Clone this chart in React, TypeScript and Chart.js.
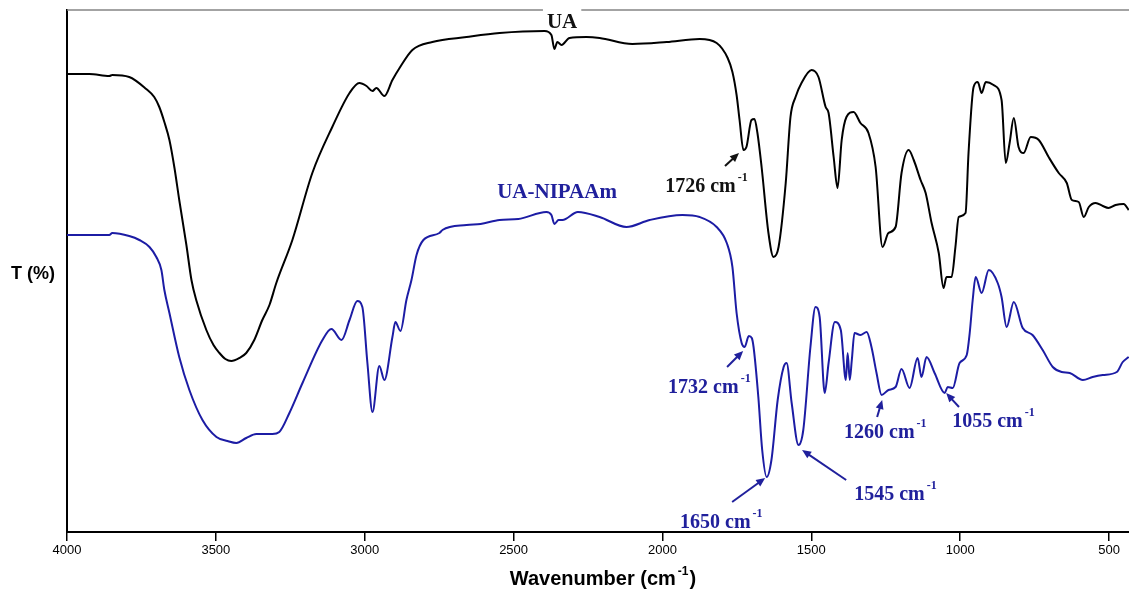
import { useEffect, useRef } from "react";
import { Chart, registerables } from "chart.js";

Chart.register(...registerables);

// FTIR spectra: wavenumber (cm-1) vs transmittance (arbitrary offset, %)
const UA_WAVENUMBER = [
  4000, 3925, 3858, 3848, 3791, 3734, 3707, 3690, 3673, 3656, 3639, 3623, 3599, 3582, 3566, 3532,
  3508, 3488, 3468, 3448, 3421, 3398, 3371, 3344, 3320, 3297, 3243, 3176, 3109, 3051, 3018, 2994,
  2974, 2961, 2934, 2907, 2883, 2840, 2773, 2658, 2547, 2396, 2373, 2363, 2353, 2339, 2312, 2255,
  2211, 2101, 1986, 1875, 1818, 1781, 1765, 1751, 1741, 1728, 1718, 1701, 1691, 1681, 1667, 1644,
  1627, 1610, 1586, 1570, 1553, 1533, 1499, 1476, 1452, 1442, 1425, 1412, 1398, 1382, 1358, 1335,
  1308, 1284, 1261, 1241, 1217, 1197, 1173, 1156, 1133, 1116, 1096, 1072, 1056, 1046, 1029, 1016,
  1005, 982, 972, 955, 941, 928, 914, 888, 861, 847, 834, 820, 804, 787, 763, 736,
  703, 669, 642, 625, 602, 585, 568, 545, 521, 502, 478, 451, 434,
];
const UA_T = [
  91.6, 91.6, 91.2, 91.4, 91.0, 88.6, 87.0, 85.0, 82.0, 78.4, 72.8, 66.4, 57.4, 50.4, 46.4, 40.4,
  37.4, 35.8, 34.6, 34.2, 34.8, 35.8, 38.4, 42.4, 45.4, 49.8, 58.4, 71.8, 81.0, 87.8, 89.8, 89.2,
  88.2, 88.8, 87.2, 90.4, 92.8, 96.4, 98.0, 99.0, 99.8, 100.2, 99.4, 96.6, 98.0, 97.4, 98.8, 99.0,
  98.8, 97.6, 98.0, 98.6, 97.8, 94.8, 92.0, 87.4, 82.4, 76.4, 77.0, 82.4, 82.6, 79.8, 73.0, 59.8,
  55.0, 57.0, 69.8, 83.0, 87.0, 89.8, 92.4, 91.0, 85.0, 83.8, 75.0, 68.8, 78.4, 83.0, 84.0, 81.8,
  79.8, 73.0, 57.0, 59.8, 61.0, 71.8, 76.4, 74.4, 70.4, 67.8, 61.8, 55.8, 48.8, 51.0, 51.0, 57.0,
  63.0, 63.8, 75.8, 89.0, 90.0, 87.8, 90.0, 89.4, 86.4, 73.8, 77.8, 82.8, 77.0, 75.8, 79.0, 78.4,
  75.0, 71.8, 69.8, 66.4, 66.0, 63.0, 65.0, 65.8, 65.2, 64.8, 65.4, 65.6, 64.4,
];

const NIPAAM_WAVENUMBER = [
  4000, 3925, 3858, 3848, 3791, 3757, 3723, 3700, 3683, 3673, 3656, 3623, 3589, 3545, 3498, 3461,
  3431, 3398, 3364, 3310, 3287, 3253, 3209, 3142, 3112, 3078, 3051, 3025, 3008, 2991, 2974, 2951,
  2934, 2907, 2897, 2880, 2860, 2843, 2826, 2803, 2749, 2739, 2658, 2611, 2547, 2484, 2390, 2373,
  2363, 2349, 2336, 2284, 2211, 2121, 2043, 1933, 1875, 1818, 1784, 1765, 1751, 1734, 1724, 1710,
  1700, 1694, 1678, 1665, 1650, 1634, 1613, 1593, 1583, 1566, 1543, 1527, 1503, 1486, 1472, 1455,
  1442, 1421, 1401, 1384, 1378, 1371, 1364, 1355, 1335, 1314, 1298, 1281, 1264, 1241, 1217, 1197,
  1170, 1143, 1130, 1113, 1086, 1052, 1042, 1025, 1002, 978, 968, 958, 948, 928, 904, 874,
  861, 844, 820, 790, 757, 723, 689, 659, 632, 588, 555, 521, 474, 454, 434,
];
const NIPAAM_T = [
  59.4, 59.4, 59.4, 59.8, 59.2, 58.4, 57.0, 55.0, 52.4, 48.4, 43.8, 35.0, 28.4, 22.4, 19.0, 18.2,
  17.8, 18.8, 19.6, 19.6, 20.0, 23.8, 29.8, 38.4, 40.6, 38.4, 42.4, 46.2, 45.0, 33.8, 24.0, 33.2,
  30.4, 39.0, 42.0, 40.2, 46.4, 50.4, 55.4, 58.4, 59.8, 60.4, 61.4, 61.6, 62.4, 62.6, 64.0, 63.4,
  61.6, 62.4, 62.4, 64.0, 63.0, 61.0, 62.4, 63.4, 63.0, 61.0, 57.8, 53.0, 43.8, 37.8, 37.0, 39.2,
  38.8, 37.0, 27.0, 16.4, 11.0, 14.4, 26.4, 33.0, 33.8, 25.8, 17.4, 20.4, 37.0, 45.0, 43.0, 27.8,
  33.8, 42.0, 40.4, 30.4, 35.8, 30.4, 34.4, 39.8, 39.4, 40.0, 37.0, 31.8, 27.4, 28.4, 29.0, 32.6,
  28.8, 34.8, 31.0, 35.0, 31.8, 27.8, 29.0, 28.8, 33.8, 35.4, 39.8, 46.4, 51.0, 47.8, 52.4, 49.8,
  47.0, 41.0, 46.0, 40.8, 39.4, 36.4, 33.0, 32.0, 31.8, 30.4, 31.0, 31.4, 32.0, 34.0, 35.0,
];

const X_TICKS = [4000, 3500, 3000, 2500, 2000, 1500, 1000, 500];

const UA_COLOR = "#000000";
const NIPAAM_COLOR = "#1c1ca4";
const LABEL_BLUE = "#20209c";

// series names placed beside their traces
const SERIES_LABELS = [
  { text: "UA", x: 2337, y: 100.8, color: "#111111", breakBorder: true },
  { text: "UA-NIPAAm", x: 2354, y: 66.8, color: LABEL_BLUE, breakBorder: false },
];

// band assignments: arrow tip/tail and label anchor in data units
const PEAKS = [
  { wn: 1726, color: "#111111", tip: [1743, 75.8], tail: [1790, 73.2], at: [1991, 68] },
  { wn: 1732, color: LABEL_BLUE, tip: [1729, 36.2], tail: [1783, 33], at: [1981, 27.8] },
  { wn: 1650, color: LABEL_BLUE, tip: [1655, 10.8], tail: [1766, 6], at: [1941, 0.8] },
  { wn: 1545, color: LABEL_BLUE, tip: [1531, 16.4], tail: [1383, 10.4], at: [1356, 6.4] },
  { wn: 1260, color: LABEL_BLUE, tip: [1262, 26.4], tail: [1279, 23], at: [1390, 18.8] },
  { wn: 1055, color: LABEL_BLUE, tip: [1047, 27.8], tail: [1004, 25], at: [1027, 21] },
];

const SERIF = '"Liberation Serif", "Times New Roman", serif';
const SANS = '"Liberation Sans", Arial, sans-serif';

function drawArrow(ctx: CanvasRenderingContext2D, x1: number, y1: number, x2: number, y2: number, color: string) {
  const ang = Math.atan2(y2 - y1, x2 - x1);
  const head = 9;
  const half = 4;
  ctx.save();
  ctx.strokeStyle = color;
  ctx.fillStyle = color;
  ctx.lineWidth = 2;
  ctx.beginPath();
  ctx.moveTo(x1, y1);
  ctx.lineTo(x2 - Math.cos(ang) * head * 0.8, y2 - Math.sin(ang) * head * 0.8);
  ctx.stroke();
  ctx.beginPath();
  ctx.moveTo(x2, y2);
  ctx.lineTo(x2 - Math.cos(ang) * head - Math.sin(ang) * half, y2 - Math.sin(ang) * head + Math.cos(ang) * half);
  ctx.lineTo(x2 - Math.cos(ang) * head + Math.sin(ang) * half, y2 - Math.sin(ang) * head - Math.cos(ang) * half);
  ctx.closePath();
  ctx.fill();
  ctx.restore();
}

function drawSup(
  ctx: CanvasRenderingContext2D,
  main: string,
  sup: string,
  tail: string,
  x: number,
  y: number,
  mainFont: string,
  supFont: string,
  raise: number,
  align: "left" | "center"
) {
  ctx.font = mainFont;
  const wMain = ctx.measureText(main).width;
  const wTail = tail ? ctx.measureText(tail).width : 0;
  ctx.font = supFont;
  const wSup = ctx.measureText(sup).width;
  const total = wMain + 2 + wSup + 1 + wTail;
  let sx = align === "center" ? x - total / 2 : x;
  ctx.textAlign = "left";
  ctx.textBaseline = "alphabetic";
  ctx.font = mainFont;
  ctx.fillText(main, sx, y);
  sx += wMain + 2;
  ctx.font = supFont;
  ctx.fillText(sup, sx, y - raise);
  sx += wSup + 1;
  if (tail) {
    ctx.font = mainFont;
    ctx.fillText(tail, sx, y);
  }
}

const annotations = {
  id: "ftirAnnotations",
  beforeDatasetsDraw(chart: any) {
    const { ctx, chartArea } = chart;
    ctx.save();
    ctx.strokeStyle = "#858585";
    ctx.lineWidth = 1.5;
    ctx.beginPath();
    ctx.moveTo(chartArea.left, chartArea.top);
    ctx.lineTo(chartArea.right, chartArea.top);
    ctx.stroke();
    ctx.restore();
  },
  afterDraw(chart: any) {
    const { ctx, chartArea } = chart;
    const xs = chart.scales.x;
    const ys = chart.scales.y;
    ctx.save();

    // series names
    for (const s of SERIES_LABELS) {
      const px = xs.getPixelForValue(s.x);
      const py = ys.getPixelForValue(s.y);
      ctx.font = `bold 21px ${SERIF}`;
      const w = ctx.measureText(s.text).width;
      if (s.breakBorder) {
        ctx.fillStyle = "#ffffff";
        ctx.fillRect(px - w / 2 - 4, chartArea.top - 3, w + 8, 7);
      }
      ctx.fillStyle = s.color;
      ctx.textAlign = "center";
      ctx.textBaseline = "alphabetic";
      ctx.fillText(s.text, px, py);
    }

    // band labels with arrows
    for (const p of PEAKS) {
      const tx = xs.getPixelForValue(p.tail[0]);
      const ty = ys.getPixelForValue(p.tail[1]);
      const hx = xs.getPixelForValue(p.tip[0]);
      const hy = ys.getPixelForValue(p.tip[1]);
      drawArrow(ctx, tx, ty, hx, hy, p.color);
      ctx.fillStyle = p.color;
      drawSup(
        ctx,
        `${p.wn} cm`,
        "-1",
        "",
        xs.getPixelForValue(p.at[0]),
        ys.getPixelForValue(p.at[1]),
        `bold 20px ${SERIF}`,
        `bold 12px ${SERIF}`,
        11,
        "left"
      );
    }

    // axis titles
    ctx.fillStyle = "#000000";
    drawSup(ctx, "Wavenumber (cm", "-1", ")", 603, 585, `bold 20px ${SANS}`, `bold 12px ${SANS}`, 10, "center");
    ctx.font = `bold 18px ${SANS}`;
    ctx.textAlign = "left";
    ctx.textBaseline = "alphabetic";
    ctx.fillText("T (%)", 11, 279);

    ctx.restore();
  },
};

export default function App() {
  const canvasRef = useRef<HTMLCanvasElement | null>(null);

  useEffect(() => {
    let chart: Chart | null = null;
    let cancelled = false;

    const build = () => {
      if (cancelled || !canvasRef.current) return;
      chart = new Chart(canvasRef.current, {
        type: "line",
        data: {
          datasets: [
            {
              label: "UA-NIPAAm",
              data: NIPAAM_WAVENUMBER.map((x, i) => ({ x, y: NIPAAM_T[i] })),
              borderColor: NIPAAM_COLOR,
              borderWidth: 2,
              pointRadius: 0,
              fill: false,
              cubicInterpolationMode: "monotone",
            },
            {
              label: "UA",
              data: UA_WAVENUMBER.map((x, i) => ({ x, y: UA_T[i] })),
              borderColor: UA_COLOR,
              borderWidth: 2,
              pointRadius: 0,
              fill: false,
              cubicInterpolationMode: "monotone",
            },
          ],
        },
        options: {
          animation: false,
          responsive: false,
          events: [],
          layout: { padding: { top: 10, right: 0, left: 0, bottom: 0 } },
          plugins: { legend: { display: false }, tooltip: { enabled: false } },
          scales: {
            x: {
              type: "linear",
              reverse: true,
              min: 433,
              max: 4000,
              afterBuildTicks: (s: any) => {
                s.ticks = X_TICKS.map((v) => ({ value: v }));
              },
              afterFit: (s: any) => {
                s.height = 57;
              },
              ticks: {
                autoSkip: false,
                maxRotation: 0,
                padding: 2,
                color: "#000000",
                font: { family: SANS, size: 13 },
                callback: (v: any) => String(v),
              },
              grid: {
                display: true,
                drawOnChartArea: false,
                drawTicks: true,
                tickLength: 9,
                color: "#000000",
                lineWidth: 1.5,
              },
              border: { display: true, color: "#000000", width: 2 },
            },
            y: {
              min: 0,
              max: 104.4,
              afterFit: (s: any) => {
                s.width = 67;
              },
              ticks: { display: false },
              grid: { display: false, drawTicks: false },
              border: { display: true, color: "#000000", width: 2 },
            },
          },
        },
        plugins: [annotations],
      });
    };

    const fonts = [`bold 20px ${SERIF}`, `bold 12px ${SERIF}`, `bold 20px ${SANS}`, `13px ${SANS}`];
    Promise.all(fonts.map((f) => document.fonts.load(f)))
      .catch(() => undefined)
      .then(build);

    return () => {
      cancelled = true;
      if (chart) chart.destroy();
    };
  }, []);

  return (
    <div style={{ position: "absolute", left: 0, top: 0, width: 1129, height: 589, background: "#ffffff" }}>
      <canvas ref={canvasRef} width={1129} height={589} style={{ display: "block" }} />
    </div>
  );
}
